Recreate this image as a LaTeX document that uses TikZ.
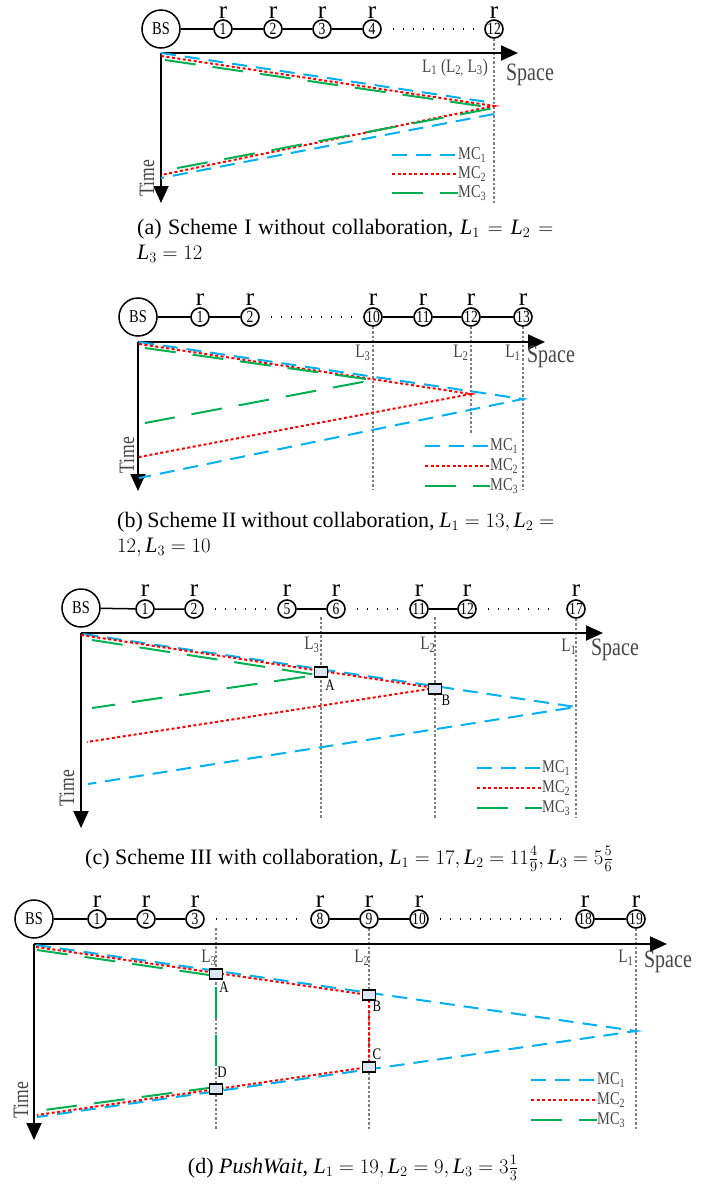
\documentclass[tikz,border=0pt]{standalone}
\usepackage{fontspec}
\setmainfont{Liberation Serif}
\newfontfamily\dfont[FakeStretch=0.8]{Liberation Serif}
\usetikzlibrary{arrows.meta}
\definecolor{mcblue}{RGB}{0,176,240}
\definecolor{mcgreen}{RGB}{0,176,80}
\definecolor{txtgray}{RGB}{70,70,70}
\definecolor{boxfill}{RGB}{220,230,242}
\newcommand{\Lv}{\mathit{L}}
\tikzset{
  bsnode/.style={circle, draw, line width=1.5pt, minimum size=38pt, inner sep=0pt, font=\dfont\fontsize{18}{18}\selectfont},
  relay/.style={circle, draw, line width=1.6pt, minimum size=18pt, inner sep=0pt, font=\dfont\fontsize{17}{17}\selectfont},
  rlab/.style={font=\fontsize{25}{25}\selectfont, inner sep=0pt},
  link/.style={line width=1.5pt},
  gapdots/.style={line width=1.5pt, dash pattern=on 1.5pt off 8.5pt, shorten <=11pt, shorten >=9pt},
  axis/.style={line width=2pt, -{Triangle[length=17pt,width=15pt]}},
  guide/.style={draw=gray, line width=1.3pt, dash pattern=on 2.5pt off 2pt},
  mcone/.style={draw=mcblue, line width=2pt, dash pattern=on 15pt off 9pt},
  mctwo/.style={draw=red, line width=2pt, dash pattern=on 3pt off 2.5pt},
  mcthree/.style={draw=mcgreen, line width=2pt, dash pattern=on 31pt off 17pt},
  mclab/.style={font=\dfont\fontsize{18}{18}\selectfont, text=txtgray, inner sep=0pt, anchor=west},
  axlab/.style={font=\dfont\fontsize{25}{25}\selectfont, text=txtgray, inner sep=0pt},
  llab/.style={font=\dfont\fontsize{19}{19}\selectfont, text=txtgray, inner sep=0pt},
  timelab/.style={font=\dfont\fontsize{22}{22}\selectfont, text=txtgray, inner sep=0pt, rotate=90},
  ptbox/.style={draw, line width=1.6pt, fill=boxfill, minimum width=13pt, minimum height=10pt, inner sep=0pt},
  ptlab/.style={font=\dfont\fontsize{16}{16}\selectfont, inner sep=0pt},
  captext/.style={font=\fontsize{22}{25}\selectfont, inner sep=0pt},
}
\begin{document}
\begin{tikzpicture}[x=1pt,y=-1pt]
\useasboundingbox (0,0) rectangle (713,1184);

%% ---------------- (a) ----------------
\node[bsnode] (aBS) at (161,29) {BS};
\foreach \n/\x in {1/223,2/273,3/322,4/372,12/494}{
  \node[relay] (a\n) at (\x,29) {\n};
  \node[rlab] (ar\n) at (\x,12.5) {r};
}
\draw[link] (aBS) -- (a1) -- (a2) -- (a3) -- (a4);
\draw[gapdots] (a4) -- (a12);
\coordinate (aO) at (161,53);
\coordinate (aX) at (518,53);
\coordinate (aY) at (161,203);
\coordinate (aG) at (494,203);
\draw[guide] (a12.south) -- (aG);
\draw[axis] (aO) -- (aX);
\draw[axis] (aO) -- (aY);
\node[axlab] (aSp) at (530,75) {Space};
\node[llab] (aL) at (455,68) {L\textsubscript{1} (L\textsubscript{2,} L\textsubscript{3})};
\node[timelab] (aT) at (147,178) {Time};
\draw[mcone] (161,53) -- (494,103);
\draw[mcone] (494,114) -- (161,178);
\draw[mctwo] (161,56) -- (494,106) -- (161,175);
\draw[mcthree] (165,60) -- (494,108) -- (167,170);
\node[mclab] (aM1) at (458,155) {MC\textsubscript{1}};
\node[mclab] (aM2) at (458,174) {MC\textsubscript{2}};
\node[mclab] (aM3) at (458,193) {MC\textsubscript{3}};
\draw[mcone] (392,155) -- (aM1.west);
\draw[mctwo] (392,174) -- (aM2.west);
\draw[mcthree] (392,193) -- (aM3.west);
\node[captext, anchor=north west, text width=416pt, align=justify] (aCap) at (137,219)
  {(a) Scheme I without collaboration, $\Lv_1 = \Lv_2 =$\linebreak $\Lv_3 = 12$};

%% ---------------- (b) ----------------
\node[bsnode] (bBS) at (138,317) {BS};
\foreach \n/\x in {1/200,2/250,10/373,11/423,12/471,13/523}{
  \node[relay] (b\n) at (\x,317) {\n};
  \node[rlab] (br\n) at (\x,299.5) {r};
}
\draw[link] (bBS) -- (b1) -- (b2);
\draw[gapdots] (b2) -- (b10);
\draw[link] (b10) -- (b11) -- (b12) -- (b13);
\coordinate (bO) at (138,342);
\coordinate (bX) at (545,342);
\coordinate (bY) at (138,491);
\coordinate (bG3) at (373,490);
\coordinate (bG2) at (471,434);
\coordinate (bG1) at (523,490);
\draw[guide] (b10.south) -- (bG3);
\draw[guide] (b12.south) -- (bG2);
\draw[guide] (b13.south) -- (bG1);
\draw[axis] (bO) -- (bX);
\draw[axis] (bO) -- (bY);
\node[axlab] (bSp) at (551,357) {Space};
\node[llab] (bL3) at (363,353) {L\textsubscript{3}};
\node[llab] (bL2) at (461,353) {L\textsubscript{2}};
\node[llab] (bL1) at (513,353) {L\textsubscript{1}};
\node[timelab] (bT) at (127,455) {Time};
\draw[mcone] (139,342) -- (523,399) -- (139,478);
\draw[mctwo] (139,344) -- (471,394) -- (139,457);
\draw[mcthree] (145,348) -- (373,380) -- (145,423);
\node[mclab] (bM1) at (490,446) {MC\textsubscript{1}};
\node[mclab] (bM2) at (490,466) {MC\textsubscript{2}};
\node[mclab] (bM3) at (490,486) {MC\textsubscript{3}};
\draw[mcone] (425,446) -- (bM1.west);
\draw[mctwo] (425,466) -- (bM2.west);
\draw[mcthree] (425,486) -- (bM3.west);
\node[captext, anchor=north west, text width=437pt, align=justify] (bCap) at (117,512)
  {(b) Scheme II without collaboration, $\Lv_1 = 13, \Lv_2 =$\linebreak $12, \Lv_3 = 10$};

%% ---------------- (c) ----------------
\node[bsnode] (cBS) at (81,608) {BS};
\foreach \n/\x in {1/145,2/194,5/287,6/336,11/419,12/467,17/576}{
  \node[relay] (c\n) at (\x,609) {\n};
  \node[rlab] (cr\n) at (\x,591) {r};
}
\draw[link] (cBS) -- (c1) -- (c2);
\draw[gapdots] (c2) -- (c5);
\draw[link] (c5) -- (c6);
\draw[gapdots] (c6) -- (c11);
\draw[link] (c11) -- (c12);
\draw[gapdots] (c12) -- (c17);
\coordinate (cO) at (81,633);
\coordinate (cX) at (603,633);
\coordinate (cY) at (81,828);
\coordinate (cG3t) at (321,617);
\coordinate (cG3) at (321,818);
\coordinate (cG2t) at (435,617);
\coordinate (cG2) at (435,818);
\coordinate (cG1) at (576,818);
\draw[guide] (cG3t) -- (cG3);
\draw[guide] (cG2t) -- (cG2);
\draw[guide] (c17.south) -- (cG1);
\draw[axis] (cO) -- (cX);
\draw[axis] (cO) -- (cY);
\node[axlab] (cSp) at (615,650) {Space};
\node[llab] (cL3) at (312,645) {L\textsubscript{3}};
\node[llab] (cL2) at (428,645) {L\textsubscript{2}};
\node[llab] (cL1) at (569,647) {L\textsubscript{1}};
\node[timelab] (cT) at (67,788) {Time};
\draw[mcone] (83,634) -- (576,707) -- (88,784);
\draw[mctwo] (81,635) -- (435,688) -- (87,742);
\draw[mcthree] (92,640) -- (317,675) -- (92,708);
\node[ptbox] (cA) at (321,672) {};
\node[ptbox] (cB) at (435,689) {};
\node[ptlab] (cAl) at (330,685) {A};
\node[ptlab] (cBl) at (446,700) {B};
\node[mclab] (cM1) at (542,768) {MC\textsubscript{1}};
\node[mclab] (cM2) at (542,788) {MC\textsubscript{2}};
\node[mclab] (cM3) at (542,808) {MC\textsubscript{3}};
\draw[mcone] (477,768) -- (cM1.west);
\draw[mctwo] (477,788) -- (cM2.west);
\draw[mcthree] (477,808) -- (cM3.west);
\node[captext, anchor=base] (cCap) at (349,864)
  {(c) Scheme III with collaboration, $\Lv_1 = 17, \Lv_2 = 11\frac{4}{9}, \Lv_3 = 5\frac{5}{6}$};

%% ---------------- (d) ----------------
\node[bsnode] (dBS) at (34,919) {BS};
\foreach \n/\x in {1/97,2/146,3/195,8/320,9/369,10/419,18/585,19/636}{
  \node[relay] (d\n) at (\x,919) {\n};
  \node[rlab] (dr\n) at (\x,901.5) {r};
}
\draw[link] (dBS) -- (d1) -- (d2) -- (d3);
\draw[gapdots] (d3) -- (d8);
\draw[link] (d8) -- (d9) -- (d10);
\draw[gapdots] (d10) -- (d18);
\draw[link] (d18) -- (d19);
\coordinate (dO) at (34,944);
\coordinate (dX) at (667,944);
\coordinate (dY) at (34,1140);
\coordinate (dG3t) at (216,928);
\coordinate (dG3) at (216,1130);
\coordinate (dG2) at (369,1130);
\coordinate (dG1) at (636,1130);
\draw[guide] (dG3t) -- (dG3);
\draw[guide] (d9.south) -- (dG2);
\draw[guide] (d19.south) -- (dG1);
\draw[axis] (dO) -- (dX);
\draw[axis] (dO) -- (dY);
\node[axlab] (dSp) at (668,962) {Space};
\node[llab] (dL3) at (209,958) {L\textsubscript{3}};
\node[llab] (dL2) at (362,958) {L\textsubscript{2}};
\node[llab] (dL1) at (626,958) {L\textsubscript{1}};
\node[timelab] (dT) at (21,1100) {Time};
\coordinate (dA) at (216,974);
\coordinate (dB) at (369,995);
\coordinate (dC) at (369,1067);
\coordinate (dD) at (216,1089);
\draw[mcone] (36,945) -- (636,1031) -- (37,1117);
\draw[mcthree] (37,950) -- (216,976) -- (216,1087) -- (37,1111);
\draw[mctwo] (36,947) -- (dB) -- (dC) -- (37,1115);
\node[ptbox] (dAb) at (dA) {};
\node[ptbox] (dBb) at (dB) {};
\node[ptbox] (dCb) at (dC) {};
\node[ptbox] (dDb) at (dD) {};
\node[ptlab] (dAl) at (224,987) {A};
\node[ptlab] (dBl) at (377,1006) {B};
\node[ptlab] (dCl) at (377,1054) {C};
\node[ptlab] (dDl) at (222,1072) {D};
\node[mclab] (dM1) at (597,1080) {MC\textsubscript{1}};
\node[mclab] (dM2) at (597,1100) {MC\textsubscript{2}};
\node[mclab] (dM3) at (597,1120) {MC\textsubscript{3}};
\draw[mcone] (531,1080) -- (dM1.west);
\draw[mctwo] (531,1100) -- (dM2.west);
\draw[mcthree] (531,1120) -- (dM3.west);
\node[captext, anchor=base] (dCap) at (353,1173)
  {(d) \textit{PushWait}, $\Lv_1 = 19, \Lv_2 = 9, \Lv_3 = 3\frac{1}{3}$};
\end{tikzpicture}
\end{document}
